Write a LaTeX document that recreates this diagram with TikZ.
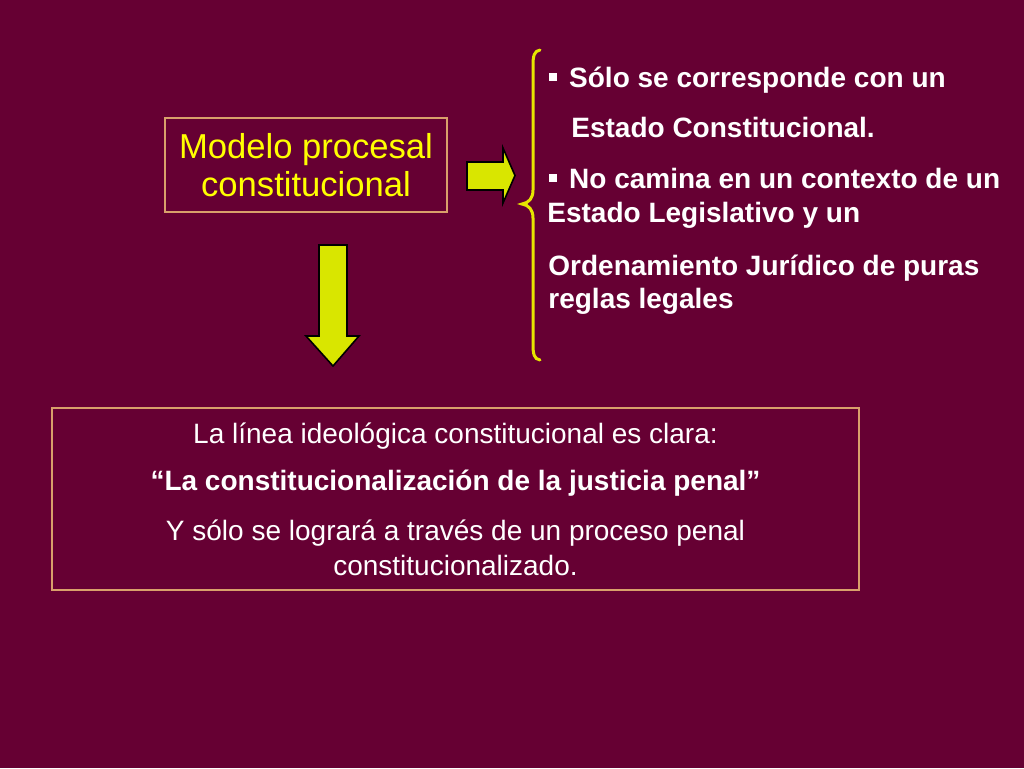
\documentclass[tikz,border=0pt]{standalone}
\usepackage{fontspec}
\setmainfont{Liberation Sans}
\definecolor{fondo}{HTML}{660033}
\definecolor{amarillo}{HTML}{FFFF00}
\definecolor{flechacol}{HTML}{D9E600}
\definecolor{marcocol}{HTML}{D9A06B}
\definecolor{llavecol}{HTML}{E6E600}
\newcommand{\vineta}{\rule[3.2pt]{3.9pt}{3.9pt}\hspace{6pt}}
\begin{document}
\begin{tikzpicture}[x=0.5pt,y=-0.5pt,
  marco/.style={draw=marcocol, line width=1pt, inner sep=0pt},
  flecha/.style={fill=flechacol, draw=black, line width=0.8pt, line join=miter},
  renglon/.style={anchor=base west, inner sep=0pt, text=white, font=\fontsize{14}{17.5}\selectfont\bfseries}]
\useasboundingbox (0,0) rectangle (1024,768);
\fill[fondo] (0,0) rectangle (1024,768);
% caja superior
\node[marco, minimum width=141pt, minimum height=47pt, align=center, text=amarillo,
  font=\fontsize{17.3}{19}\selectfont] (modelo) at (306,165) {Modelo procesal\\constitucional};
% flechas
\draw[flecha] (467,162) -- (503,162) -- (503,148) -- (515,175.5) -- (503,203) -- (503,190) -- (467,190) -- cycle;
\draw[flecha] (319,245) -- (347,245) -- (347,336) -- (359,336) -- (333,366) -- (306,336) -- (319,336) -- cycle;
% llave
\draw[llavecol, line width=1.5pt, line cap=round] (540,50) .. controls (534,51) and (533,56) .. (533,66)
  -- (533,190) .. controls (533,198) and (529,203) .. (522,204)
  .. controls (529,205) and (533,210) .. (533,218)
  -- (533,344) .. controls (533,354) and (534,359) .. (540,360);
% texto de la derecha
\node[renglon] (sol) at (549,87) {\vineta Sólo se corresponde con un};
\node[renglon] (est) at (571,137) {Estado Constitucional.};
\node[renglon] (cam) at (549,188) {\vineta No camina en un contexto de un};
\node[renglon] (leg) at (547,222) {Estado Legislativo y un};
\node[renglon] (ord) at (548,275) {Ordenamiento Jurídico de puras};
\node[renglon] (reg) at (548,308) {reglas legales};
% caja inferior
\node[marco, minimum width=403.5pt, minimum height=91pt, align=center, text=white,
  font=\fontsize{14}{17.5}\selectfont] (linea) at (455.5,499)
  {La línea ideológica constitucional es clara:\\[6pt]
   \textbf{“La constitucionalización de la justicia penal”}\\[7.5pt]
   Y sólo se logrará a través de un proceso penal\\
   constitucionalizado.};
\end{tikzpicture}
\end{document}
